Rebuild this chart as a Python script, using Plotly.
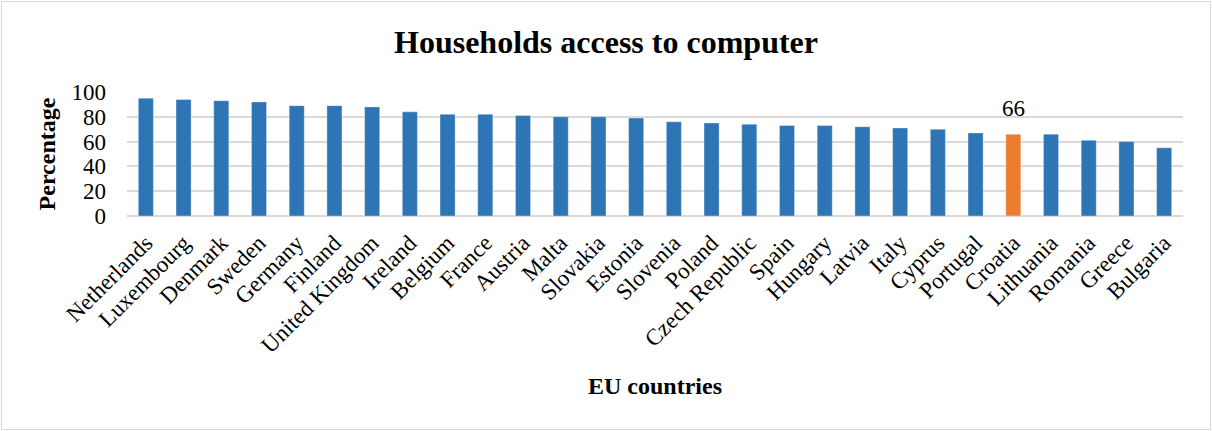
import plotly.graph_objects as go

countries = ["Netherlands", "Luxembourg", "Denmark", "Sweden", "Germany", "Finland",
             "United Kingdom", "Ireland", "Belgium", "France", "Austria", "Malta",
             "Slovakia", "Estonia", "Slovenia", "Poland", "Czech Republic", "Spain",
             "Hungary", "Latvia", "Italy", "Cyprus", "Portugal", "Croatia",
             "Lithuania", "Romania", "Greece", "Bulgaria"]
percentage = [95, 94, 93, 92, 89, 89, 88, 84, 82, 82, 81, 80, 80, 79, 76, 75, 74, 73,
              73, 72, 71, 70, 67, 66, 66, 61, 60, 55]
highlight = "Croatia"

BLUE = "#2E75B6"
ORANGE = "#ED7D31"
FONT = "Liberation Serif"

W, H = 1212, 431
ML, MR, MT, MB = 127, 29, 92, 215
PW, PH = W - ML - MR, H - MT - MB

colors = [ORANGE if c == highlight else BLUE for c in countries]
hl_value = percentage[countries.index(highlight)]

fig = go.Figure(go.Bar(
    x=countries,
    y=percentage,
    marker=dict(color=colors, line=dict(color="rgba(255,255,255,0.35)", width=1)),
    hoverinfo="x+y",
))

# value label above the highlighted bar
fig.add_annotation(
    x=highlight, y=hl_value, text=str(hl_value),
    showarrow=False, yanchor="bottom", yshift=11,
    font=dict(family=FONT, size=23, color="#000000"),
)

fig.update_layout(
    width=W,
    height=H,
    margin=dict(l=ML, r=MR, t=MT, b=MB),
    paper_bgcolor="white",
    plot_bgcolor="white",
    bargap=0.6,
    showlegend=False,
    title=dict(
        text="<b>Households access to computer</b>",
        x=0.5, xanchor="center", y=1 - 42 / H, yanchor="middle",
        font=dict(family=FONT, size=32, color="#000000"),
    ),
    font=dict(family=FONT, color="#000000"),
    # outer chart border
    shapes=[dict(type="rect", xref="paper", yref="paper",
                 x0=-(ML - 1.5) / PW, x1=1 + (MR - 1.5) / PW,
                 y0=-(MB - 1.5) / PH, y1=1 + (MT - 1.5) / PH,
                 line=dict(color="#D9D9D9", width=1))],
)

fig.update_xaxes(
    tickangle=-45,
    tickfont=dict(family=FONT, size=23, color="#000000"),
    showgrid=False,
    showline=False,
    ticks="",
    ticklabelstandoff=8,
    title=dict(text="<b>EU countries</b>", font=dict(family=FONT, size=24, color="#000000"),
               standoff=20),
)

fig.update_yaxes(
    range=[0, 100],
    dtick=20,
    tickfont=dict(family=FONT, size=23, color="#000000"),
    showgrid=True,
    gridcolor="#D9D9D9",
    gridwidth=1.5,
    zeroline=True,
    zerolinecolor="#D9D9D9",
    zerolinewidth=1.5,
    showline=False,
    ticks="",
    ticklabelstandoff=20,
    title=dict(text="<b>Percentage</b>", font=dict(family=FONT, size=24, color="#000000"),
               standoff=9),
)

fig.write_html("out.html")
